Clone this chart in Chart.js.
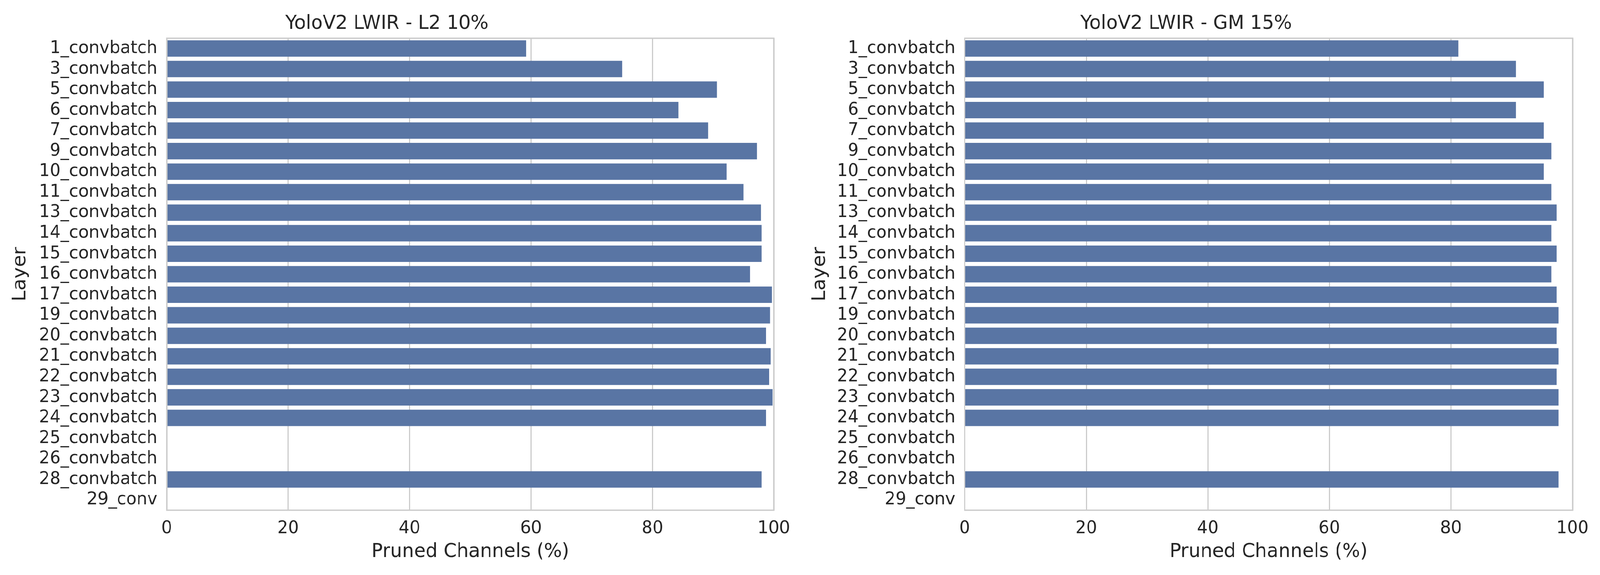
<!DOCTYPE html>
<html>
<head>
<meta charset="utf-8">
<script src="https://cdn.jsdelivr.net/npm/chart.js@4.4.1/dist/chart.umd.min.js"></script>
<style>
  html, body { margin: 0; padding: 0; background: #ffffff; overflow: hidden; }
  #wrap { position: absolute; left: 0; top: 0; width: 4251px; height: 1473px; transform-origin: 0 0; }
  .box { position: absolute; top: 0; height: 1473px; }
</style>
</head>
<body>
<div id="wrap">
  <div class="box" style="left:0; width:2125px;"><canvas id="chartL2"></canvas></div>
  <div class="box" style="left:2125px; width:2126px;"><canvas id="chartGM"></canvas></div>
</div>
<script>
// layer names (same for both panels)
const layers = [
  '1_convbatch', '3_convbatch', '5_convbatch', '6_convbatch', '7_convbatch',
  '9_convbatch', '10_convbatch', '11_convbatch', '13_convbatch', '14_convbatch',
  '15_convbatch', '16_convbatch', '17_convbatch', '19_convbatch', '20_convbatch',
  '21_convbatch', '22_convbatch', '23_convbatch', '24_convbatch', '25_convbatch',
  '26_convbatch', '28_convbatch', '29_conv'
];

// pruned channels (%) - L2 10%
const prunedL2 = [
  59.2, 75.0, 90.6, 84.3, 89.2,
  97.2, 92.2, 95.0, 97.9, 98.0,
  98.0, 96.1, 99.7, 99.4, 98.7,
  99.5, 99.2, 99.8, 98.7, null,
  null, 98.0, null
];

// pruned channels (%) - GM 15%
const prunedGM = [
  81.2, 90.7, 95.3, 90.7, 95.3,
  96.5, 95.3, 96.5, 97.4, 96.5,
  97.4, 96.5, 97.4, 97.7, 97.4,
  97.7, 97.4, 97.7, 97.7, null,
  null, 97.7, null
];

const xTicks = [0, 20, 40, 60, 80, 100];

const textColor = '#262626';
const barColor = '#5975a4';
const lineColor = '#cccccc';

// stretch the 4251x1473 layout over the real viewport
const wrap = document.getElementById('wrap');
const sx = window.innerWidth / 4251;
const sy = window.innerHeight / 1473;
wrap.style.transform = 'scale(' + sx + ',' + sy + ')';

// draw all four spines like seaborn whitegrid
const framePlugin = {
  id: 'frame',
  afterDatasetsDraw(chart) {
    const { ctx, chartArea } = chart;
    ctx.save();
    ctx.strokeStyle = lineColor;
    ctx.lineWidth = 3.5;
    ctx.strokeRect(chartArea.left, chartArea.top,
      chartArea.right - chartArea.left, chartArea.bottom - chartArea.top);
    ctx.restore();
  }
};

function makeChart(id, title, values, yWidth, padRight) {
  const ctx = document.getElementById(id).getContext('2d');
  return new Chart(ctx, {
    type: 'bar',
    data: {
      labels: layers,
      datasets: [{
        data: values,
        backgroundColor: barColor,
        borderWidth: 0,
        categoryPercentage: 0.8,
        barPercentage: 1.0
      }]
    },
    options: {
      indexAxis: 'y',
      responsive: true,
      maintainAspectRatio: false,
      animation: false,
      layout: { padding: { left: 0, right: padRight, top: 0, bottom: 29 } },
      plugins: {
        legend: { display: false },
        tooltip: { enabled: false },
        title: {
          display: true,
          text: title,
          color: textColor,
          font: { family: 'DejaVu Sans', size: 50, weight: 'normal' },
          padding: { top: 31, bottom: 7 }
        }
      },
      scales: {
        x: {
          min: 0,
          max: 100,
          afterBuildTicks: (scale) => {
            scale.ticks = xTicks.map(v => ({ value: v }));
          },
          afterFit: (scale) => { scale.height = 137; },
          grid: { color: lineColor, lineWidth: 3, drawTicks: false },
          border: { display: false },
          ticks: {
            color: textColor,
            padding: 20,
            maxRotation: 0,
            font: { family: 'DejaVu Sans', size: 45 }
          },
          title: {
            display: true,
            text: 'Pruned Channels (%)',
            color: textColor,
            font: { family: 'DejaVu Sans', size: 50 },
            padding: { top: 4, bottom: 0 }
          }
        },
        y: {
          afterFit: (scale) => { scale.width = yWidth; },
          grid: { display: false, drawTicks: false },
          border: { display: false },
          ticks: {
            color: textColor,
            padding: 25,
            autoSkip: false,
            font: { family: 'DejaVu Sans', size: 45 }
          },
          title: {
            display: true,
            text: 'Layer',
            color: textColor,
            font: { family: 'DejaVu Sans', size: 50 },
            padding: { top: 24, bottom: 0 }
          }
        }
      }
    },
    plugins: [framePlugin]
  });
}

makeChart('chartL2', 'YoloV2 LWIR - L2 10%', prunedL2, 443, 69);
makeChart('chartGM', 'YoloV2 LWIR - GM 15%', prunedGM, 438, 73);
</script>
</body>
</html>
